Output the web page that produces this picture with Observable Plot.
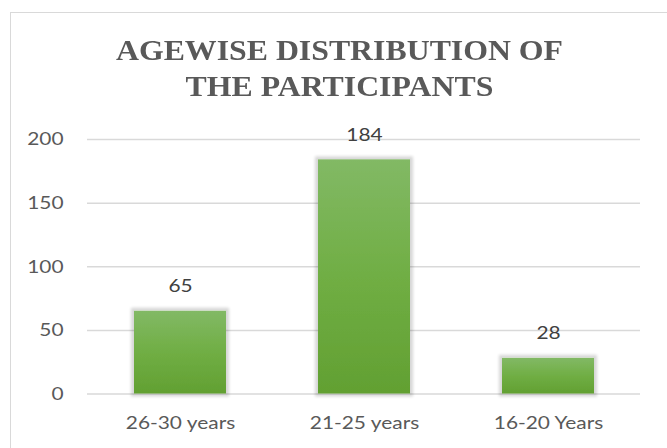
<!DOCTYPE html>
<html><head><meta charset="utf-8">
<script src="https://cdn.jsdelivr.net/npm/d3@7"></script>
<script src="https://cdn.jsdelivr.net/npm/@observablehq/plot@0.6"></script>
<style>
body{margin:0;background:#fff;}
#wrap{position:relative;width:667px;height:448px;overflow:hidden;background:#fff;}
#frame{position:absolute;left:10px;top:12px;width:700px;height:500px;border:1.5px solid #d9d9d9;}
#title{position:absolute;left:6px;top:32px;width:667px;text-align:center;font-family:"Liberation Serif",serif;font-weight:bold;font-size:30px;line-height:36px;color:#595959;transform:scaleX(1.06);transform-origin:333.5px 0;}
#chart{position:absolute;left:0;top:115px;}
</style></head><body>
<div id="wrap"><div id="frame"></div>
<div id="title">AGEWISE DISTRIBUTION OF<br>THE PARTICIPANTS</div>
<div id="chart"></div></div>
<script>
const categories = ["26-30 years", "21-25 years", "16-20 Years"];
const values = [65, 184, 28];
const yTicks = [0, 50, 100, 150, 200];

const data = categories.map((c, i) => ({category: c, value: values[i]}));
const font = "Lato, 'Open Sans', sans-serif";

const chart = Plot.plot({
  width: 667,
  height: 333,
  marginTop: 24,
  marginBottom: 54.5,
  marginLeft: 87,
  marginRight: 27,
  style: {fontFamily: font, fontSize: "18px", color: "#595959", background: "transparent"},
  x: {domain: categories, paddingInner: 0.5, paddingOuter: 0.25, label: null},
  y: {domain: [0, 200], ticks: yTicks, label: null},
  marks: [
    Plot.gridY(yTicks, {stroke: "#d9d9d9", strokeOpacity: 1, strokeWidth: 1.5}),
    Plot.barY(data, {x: "category", y: "value", fill: "url(#barGrad)"}),
    Plot.text(data, {x: "category", y: "value", text: d => String(d.value), dy: -25, fontSize: 18, fill: "#404040"}),
    Plot.axisY(yTicks, {tickSize: 0, tickPadding: 0, dx: -24, fontSize: 18, fill: "#595959", label: null}),
    Plot.axisX({tickSize: 0, tickPadding: 22, fontSize: 18, fill: "#595959", label: null})
  ]
});
const ns = "http://www.w3.org/2000/svg";
const defs = document.createElementNS(ns, "defs");
defs.innerHTML =
  '<linearGradient id="barGrad" x1="0" y1="0" x2="0" y2="1">' +
  '<stop offset="0" stop-color="#82b965"/><stop offset="0.5" stop-color="#70ae44"/><stop offset="1" stop-color="#62a032"/></linearGradient>' +
  '<filter id="glow" x="-20%" y="-20%" width="140%" height="140%">' +
  '<feMorphology in="SourceAlpha" operator="dilate" radius="2.5" result="d"/>' +
  '<feGaussianBlur in="d" stdDeviation="1.5" result="b"/>' +
  '<feComponentTransfer in="b" result="s"><feFuncA type="linear" slope="0.16"/></feComponentTransfer>' +
  '<feMerge><feMergeNode in="s"/><feMergeNode in="SourceGraphic"/></feMerge></filter>';
chart.insertBefore(defs, chart.firstChild);
const barG = chart.querySelector('g[aria-label="bar"]');
if (barG) barG.setAttribute("filter", "url(#glow)");
// widen the glyphs horizontally, like the reference's stretched lettering
chart.querySelectorAll("text").forEach(t => {
  const tr = t.getAttribute("transform") || "";
  t.setAttribute("transform", `${tr} scale(1.16,1)`);
});
document.getElementById("chart").appendChild(chart);
</script>
</body></html>
